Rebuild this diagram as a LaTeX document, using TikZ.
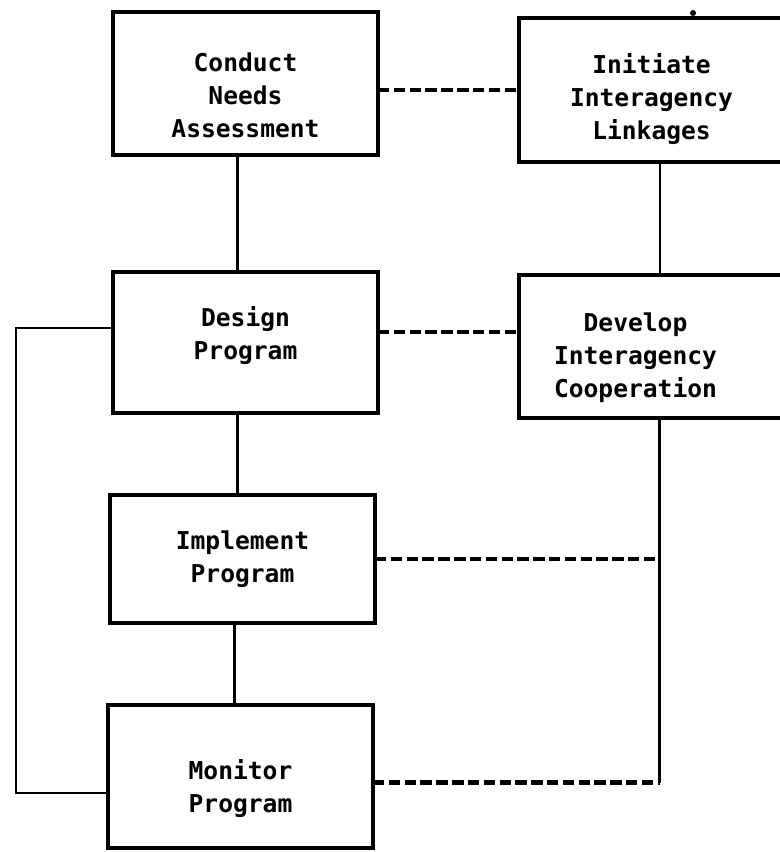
\documentclass[tikz,border=0pt]{standalone}
\usepackage{fontspec}
\newfontfamily\boxfont{DejaVu Sans Mono}
\usepackage{tikz}
\usetikzlibrary{positioning}

\begin{document}
\begin{tikzpicture}[
    taskbox/.style={
        draw,
        line width=1.8pt,
        minimum width=5.3cm,
        minimum height=2.86cm,
        inner sep=0pt,
        outer sep=0pt
    },
    boxtext/.style={
        align=center,
        inner sep=0pt,
        font=\boxfont\bfseries\fontsize{14pt}{18.8pt}\selectfont
    },
    line/.style={line width=1.6pt},
    link/.style={line width=2.4pt, dash pattern=on 6.5pt off 2.5pt}
]
\useasboundingbox (0,0) rectangle (15.6,-17.04);

\node[taskbox, label={[boxtext, yshift=-2.4mm]center:{Conduct\\Needs\\Assessment}}]
    (need) at (4.91,-1.67) {};

\node[taskbox, right=2.82cm of need, yshift=-1.3mm, minimum height=2.88cm,
    label={[boxtext, yshift=-1.8mm]center:{Initiate\\Interagency\\Linkages}}]
    (link) {};

\node[taskbox, below=2.34cm of need, minimum height=2.82cm,
    label={[boxtext, yshift=1.4mm]center:{Design\\Program}}]
    (design) {};

\node[taskbox, below=2.26cm of link,
    label={[boxtext, yshift=-2.2mm, xshift=-3.2mm]center:{Develop\\Interagency\\Cooperation}}]
    (coop) {};

\node[taskbox, below=1.64cm of design, xshift=-0.6mm, minimum height=2.56cm,
    label={[boxtext]center:{Implement\\Program}}]
    (impl) {};

\node[taskbox, below=1.64cm of impl, xshift=-0.4mm,
    label={[boxtext, yshift=-2.4mm]center:{Monitor\\Program}}]
    (mon) {};

% stray mark above the top right box
\fill (13.86,-0.26) circle (0.06);

\draw[line] ([xshift=-1.6mm]need.south) -- ([xshift=-1.6mm]need.south |- design.north);
\draw[line] ([xshift=-1.6mm]design.south) -- ([xshift=-1.6mm]design.south |- impl.north);
\draw[line] ([xshift=-1.6mm]impl.south) -- ([xshift=-1.6mm]impl.south |- mon.north);
\draw[line] ([xshift=1.7mm]link.south) -- ([xshift=1.7mm]link.south |- coop.north);

\draw[link] (link.west -| need.east) -- (link.west);
\draw[link] ([yshift=2.1mm]design.east) -- ([yshift=2.1mm]design.east -| coop.west);

\coordinate (tail) at ([xshift=1.6mm]coop.south);
\coordinate (monout) at ([yshift=-1.2mm]mon.east);
\coordinate (corner) at (tail |- monout);
\draw[line] (tail) -- (corner);
\draw[link] (impl.east) -- (impl.east -| tail);
\draw[link] (monout) -- (corner);

\draw[line] ([yshift=2.9mm]design.west) -- ++(-1.94,0)
    |- ([yshift=-3.3mm]mon.west);

\end{tikzpicture}
\end{document}
